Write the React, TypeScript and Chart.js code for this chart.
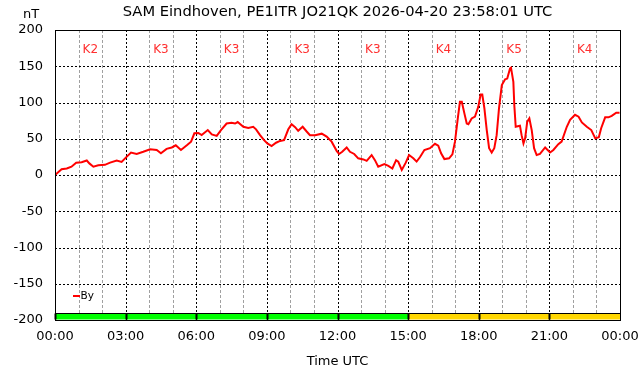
import React, { useEffect, useRef } from "react";
import { Chart, registerables } from "chart.js";

Chart.register(...registerables);

const TITLE = "SAM Eindhoven, PE1ITR JO21QK 2026-04-20 23:58:01 UTC";
const Y_UNIT = "nT";
const X_TITLE = "Time UTC";
const SERIES_LABEL = "By";

// time in hours (UTC) since 00:00
const hours = [
  0.0, 0.28, 0.5, 0.7, 0.9, 1.13, 1.35, 1.46, 1.63, 1.84, 2.12, 2.34, 2.62, 2.83,
  3.04, 3.23, 3.47, 3.75, 4.04, 4.32, 4.5, 4.74, 4.96, 5.13, 5.35, 5.6, 5.78, 5.92,
  6.09, 6.23, 6.49, 6.66, 6.87, 7.05, 7.29, 7.5, 7.65, 7.76, 8.0, 8.21, 8.42, 8.54,
  8.71, 8.88, 9.02, 9.2, 9.39, 9.56, 9.73, 9.91, 10.05, 10.2, 10.33, 10.52, 10.69,
  10.83, 11.05, 11.33, 11.54, 11.75, 11.97, 12.07, 12.2, 12.39, 12.53, 12.71, 12.88,
  13.1, 13.24, 13.45, 13.59, 13.73, 13.99, 14.16, 14.33, 14.49, 14.58, 14.73, 14.9,
  15.04, 15.22, 15.36, 15.5, 15.69, 15.93, 16.14, 16.28, 16.4, 16.54, 16.74, 16.88,
  16.99, 17.11, 17.2, 17.28, 17.39, 17.49, 17.56, 17.7, 17.84, 17.98, 18.08, 18.15,
  18.24, 18.34, 18.44, 18.55, 18.66, 18.76, 18.86, 18.98, 19.12, 19.21, 19.33, 19.37,
  19.47, 19.51, 19.57, 19.75, 19.82, 19.9, 19.97, 20.06, 20.15, 20.25, 20.35, 20.46,
  20.6, 20.82, 21.03, 21.17, 21.38, 21.52, 21.74, 21.88, 22.09, 22.24, 22.38, 22.59,
  22.78, 22.95, 23.1, 23.2, 23.37, 23.51, 23.65, 23.84, 23.98,
];

// By component (nT)
const byValues = [
  0, 8, 9, 11.5, 17, 17.5, 20, 16, 11.5, 13.5, 14, 17, 20, 18,
  25, 31, 29, 32, 35.5, 34.5, 30, 36, 38, 41, 34.5, 41, 46, 57.5,
  58, 55, 62, 56, 54, 62, 71, 72, 71, 73, 66.5, 65, 66.5, 63,
  55, 48, 43.5, 40, 44.5, 47, 48, 63, 70, 66, 61, 66.5, 60,
  55, 55, 57, 53, 46, 33, 29, 32, 38, 32, 29, 23,
  21.5, 19.5, 27.5, 20.5, 11.5, 15, 12.5, 9, 20.5, 18.5, 7, 17,
  27.5, 23, 18.5, 24.5, 34.5, 37, 43, 40.5, 30, 22, 23, 28.5,
  46, 78, 101, 101, 85, 71, 70, 78, 80.5, 94, 111, 111,
  92, 62, 37, 31, 37, 55, 92, 124, 132, 133, 147, 148,
  128.5, 96.5, 66.5, 68, 55, 43.5, 50.5, 73.5, 78, 62, 37, 27.5,
  29, 38, 31, 34.5, 42.5, 46, 66.5, 76, 83, 80.5, 72.5, 66.5,
  62, 50.5, 52, 64.5, 79.5, 79.5, 81.5, 86, 86,
];

// Planetary K index per 3-hour block
const kIndex = [2, 3, 3, 3, 3, 4, 5, 4];

const xTicks = [0, 3, 6, 9, 12, 15, 18, 21, 24];
const xTickLabels = ["00:00", "03:00", "06:00", "09:00", "12:00", "15:00", "18:00", "21:00", "00:00"];
const xMinorTicks = [1, 2, 4, 5, 7, 8, 10, 11, 13, 14, 16, 17, 19, 20, 22, 23];
const yTicks = [-200, -150, -100, -50, 0, 50, 100, 150, 200];

const FONT = "'DejaVu Sans', 'Liberation Sans', sans-serif";

export default function App() {
  const ref = useRef<HTMLCanvasElement>(null);

  useEffect(() => {
    document.body.style.margin = "0";
    const canvas = ref.current;
    if (!canvas) return;

    const r = (v: number) => Math.round(v) + 0.5;

    const overlay = {
      id: "overlay",
      beforeDatasetsDraw(chart: any) {
        const { ctx, chartArea: a } = chart;
        const x = chart.scales.x;
        const y = chart.scales.y;
        ctx.save();
        ctx.lineWidth = 1;
        // minor vertical grid
        ctx.strokeStyle = "#a0a0a0";
        ctx.setLineDash([3, 2]);
        for (const t of xMinorTicks) {
          const px = r(x.getPixelForValue(t));
          ctx.beginPath();
          ctx.moveTo(px, a.top);
          ctx.lineTo(px, a.bottom);
          ctx.stroke();
        }
        // major vertical grid
        ctx.strokeStyle = "#000";
        ctx.setLineDash([2, 2]);
        for (const t of xTicks) {
          const px = r(x.getPixelForValue(t));
          ctx.beginPath();
          ctx.moveTo(px, a.top);
          ctx.lineTo(px, a.bottom);
          ctx.stroke();
        }
        // horizontal grid
        for (const t of yTicks) {
          const py = r(y.getPixelForValue(t));
          ctx.beginPath();
          ctx.moveTo(a.left, py);
          ctx.lineTo(a.right, py);
          ctx.stroke();
        }
        ctx.setLineDash([]);
        // K index bars
        for (let i = 0; i < kIndex.length; i++) {
          const x0 = r(x.getPixelForValue(i * 3));
          const x1 = r(x.getPixelForValue(i * 3 + 3));
          const yt = r(y.getPixelForValue(-190));
          const yb = r(y.getPixelForValue(-200)) - 1;
          ctx.fillStyle = kIndex[i] >= 4 ? "#ffd700" : "#00ff00";
          ctx.fillRect(x0, yt, x1 - x0, yb - yt);
          ctx.strokeStyle = "#000";
          ctx.lineWidth = 1;
          ctx.beginPath();
          ctx.moveTo(x0, yb);
          ctx.lineTo(x0, yt);
          ctx.lineTo(x1, yt);
          ctx.lineTo(x1, yb);
          ctx.stroke();
          ctx.lineWidth = 2;
          ctx.beginPath();
          ctx.moveTo(x0, yt);
          ctx.lineTo(x0, yb);
          ctx.stroke();
          ctx.lineWidth = 1;
        }
        // bottom dotted line under bars
        ctx.setLineDash([2, 2]);
        ctx.strokeStyle = "#000";
        {
          const py = r(y.getPixelForValue(-200));
          ctx.beginPath();
          ctx.moveTo(a.left, py);
          ctx.lineTo(a.right, py);
          ctx.stroke();
        }
        ctx.setLineDash([]);
        // K labels
        ctx.fillStyle = "#ff3030";
        ctx.font = `12px ${FONT}`;
        ctx.textAlign = "center";
        ctx.textBaseline = "middle";
        for (let i = 0; i < kIndex.length; i++) {
          const cx = x.getPixelForValue(i * 3 + 1.5);
          ctx.fillText("K" + kIndex[i], cx, a.top + 20);
        }
        ctx.restore();
      },
      afterDatasetsDraw(chart: any) {
        const { ctx, chartArea: a } = chart;
        ctx.save();
        // frame
        ctx.strokeStyle = "#000";
        ctx.lineWidth = 1;
        ctx.strokeRect(r(a.left), r(a.top), Math.round(a.right - a.left), Math.round(a.bottom - a.top));
        // title
        ctx.fillStyle = "#000";
        ctx.textAlign = "center";
        ctx.textBaseline = "middle";
        ctx.font = `14.7px ${FONT}`;
        ctx.fillText(TITLE, (a.left + a.right) / 2, 12);
        // unit
        ctx.font = `13px ${FONT}`;
        ctx.fillText(Y_UNIT, 31, 15);
        // x title
        ctx.fillText(X_TITLE, (a.left + a.right) / 2, 362);
        // legend
        ctx.strokeStyle = "#ff0000";
        ctx.lineWidth = 2;
        ctx.beginPath();
        ctx.moveTo(73, 296);
        ctx.lineTo(80, 296);
        ctx.stroke();
        ctx.fillStyle = "#000";
        ctx.textAlign = "left";
        ctx.font = `10.5px ${FONT}`;
        ctx.fillText(SERIES_LABEL, 80.5, 296.5);
        ctx.restore();
      },
    };

    const chart = new Chart(canvas, {
      type: "line",
      data: {
        datasets: [
          {
            label: SERIES_LABEL,
            data: hours.map((h, i) => ({ x: h, y: byValues[i] })),
            borderColor: "#ff0000",
            borderWidth: 2,
            pointRadius: 0,
            tension: 0,
            fill: false,
          },
        ],
      },
      options: {
        responsive: false,
        animation: false,
        layout: { padding: { left: 8, top: 30, right: 22, bottom: 0 } },
        plugins: {
          legend: { display: false },
          title: { display: false },
          tooltip: { enabled: false },
        },
        scales: {
          x: {
            type: "linear",
            min: 0,
            max: 24,
            afterBuildTicks: (s: any) => {
              s.ticks = xTicks.map((v) => ({ value: v }));
            },
            afterFit: (s: any) => {
              s.height = 56;
              s.paddingLeft = 0;
              s.paddingRight = 0;
            },
            ticks: {
              autoSkip: false,
              maxRotation: 0,
              padding: 9,
              color: "#000",
              font: { family: FONT, size: 13 },
              callback: (v: any) => xTickLabels[xTicks.indexOf(Number(v))] ?? "",
            },
            grid: { display: false, drawTicks: false },
            border: { display: false },
          },
          y: {
            type: "linear",
            min: -200,
            max: 200,
            afterBuildTicks: (s: any) => {
              s.ticks = yTicks.map((v) => ({ value: v }));
            },
            afterFit: (s: any) => {
              s.width = 47;
              s.paddingTop = 0;
              s.paddingBottom = 0;
            },
            ticks: {
              padding: 12,
              color: "#000",
              font: { family: FONT, size: 13 },
              callback: (v: any) => String(v),
            },
            grid: { display: false, drawTicks: false },
            border: { display: false },
          },
        },
      },
      plugins: [overlay],
    });

    return () => chart.destroy();
  }, []);

  return <canvas ref={ref} width={642} height={376} style={{ display: "block" }} />;
}
